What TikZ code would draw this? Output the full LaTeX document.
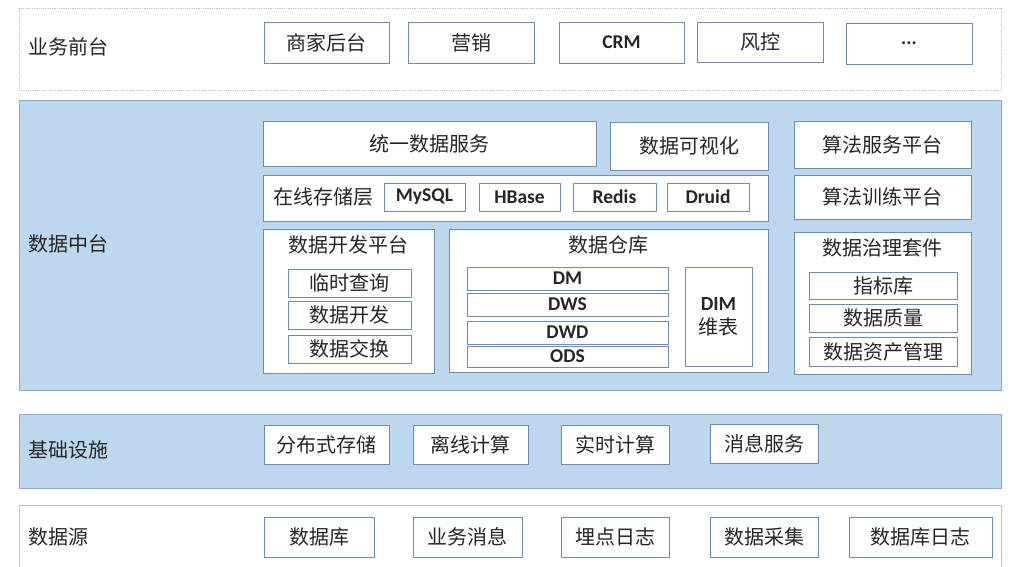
\documentclass[tikz,border=0pt]{standalone}
\usepackage{fontspec}
\setmainfont{Carlito}
\newfontfamily\cjk{Noto Sans CJK SC}
\definecolor{bandfill}{HTML}{BDD7EE}
\definecolor{bandline}{HTML}{8EAACB}
\definecolor{boxline}{HTML}{6F8CAE}
\definecolor{dotline}{HTML}{B8C4D2}
\newcommand{\bx}[7][]{%
  \node[box,#1,minimum width={(#5-#3)*1pt},minimum height={(#6-#4)*1pt}] (#2) at ({(#3+#5)/2},{(#4+#6)/2}) {#7};}
\tikzset{
  box/.style={draw=boxline,fill=white,line width=0.8pt,inner sep=0pt,font=\cjk\fontsize{20}{22}\selectfont,text=black!85},
  lat/.style={font=\fontsize{19.5}{21}\selectfont\bfseries},
  band/.style={draw=bandline,fill=bandfill,line width=0.8pt,inner sep=0pt},
  wband/.style={draw=dotline,fill=white,line width=0.8pt,densely dotted,inner sep=0pt},
  lbl/.style={font=\cjk\fontsize{20}{22}\selectfont,text=black!85,anchor=west,inner sep=0pt},
  ttl/.style={font=\cjk\fontsize{20}{22}\selectfont,text=black!85,inner sep=0pt}
}
\begin{document}
\begin{tikzpicture}[x=1pt,y=-1pt]
\useasboundingbox (0,0) rectangle (1010,567);
\clip (0,0) rectangle (1010,567);
% bands
\bx[wband]{bandA}{19}{8}{1001}{90}{}
\bx[band]{bandB}{19}{100}{1001}{390}{}
\bx[band]{bandC}{19}{414}{1001}{488}{}
\bx[wband,solid]{bandD}{19}{505}{1001}{580}{}
\node[lbl] (lA) at (28,47) {业务前台};
\node[lbl] (lB) at (28,244) {数据中台};
\node[lbl] (lC) at (28,450) {基础设施};
\node[lbl] (lD) at (28,537) {数据源};
% top
\bx{a1}{264}{22}{389}{63}{商家后台}
\bx{a2}{408}{22}{534}{63}{营销}
\bx[lat]{a3}{559}{22}{684}{63}{CRM}
\bx{a4}{697}{22}{823}{62}{风控}
\bx[lat]{a5}{846}{23}{972}{64}{...}
% middle
\bx{m1}{263}{121}{596}{166}{统一数据服务}
\bx{m2}{610}{122}{768}{170}{数据可视化}
\bx{m3}{263}{175}{768}{221}{}
\node[lbl] (m3l) at (273,197) {在线存储层};
\bx[lat]{s1}{384}{183}{465}{211}{MySQL}
\bx[lat]{s2}{479}{183}{560}{211}{HBase}
\bx[lat]{s3}{573}{183}{656}{211}{Redis}
\bx[lat]{s4}{667}{183}{749}{211}{Druid}
\bx{r1}{794}{121}{971}{168}{算法服务平台}
\bx{r2}{794}{175}{971}{219}{算法训练平台}
\bx{r3}{794}{232}{971}{374}{}
\node[ttl] (r3t) at (882,248) {数据治理套件};
\bx{g1}{809}{272}{957}{299}{指标库}
\bx{g2}{809}{304}{957}{332}{数据质量}
\bx{g3}{809}{337}{957}{366}{数据资产管理}
\bx{d0}{263}{229}{434}{373}{}
\node[ttl] (d0t) at (348.5,245) {数据开发平台};
\bx{d1}{288}{269}{411}{297}{临时查询}
\bx{d2}{288}{301}{411}{329}{数据开发}
\bx{d3}{288}{335}{411}{363}{数据交换}
\bx{w0}{449}{229}{768}{372}{}
\node[ttl] (w0t) at (608.5,245) {数据仓库};
\bx[lat]{w1}{467}{267}{668}{290}{DM}
\bx[lat]{w2}{467}{293}{668}{316}{DWS}
\bx[lat]{w3}{467}{321}{668}{344}{DWD}
\bx[lat]{w4}{467}{346}{668}{367}{ODS}
\bx[align=center]{w5}{685}{267}{752}{366}{{\fontspec{Carlito}\bfseries DIM}\\[2pt]维表}
% infra
\bx{c1}{264}{425}{389}{464}{分布式存储}
\bx{c2}{413}{425}{528}{464}{离线计算}
\bx{c3}{561}{425}{669}{464}{实时计算}
\bx{c4}{710}{424}{818}{463}{消息服务}
% sources
\bx{e1}{264}{517}{374}{557}{数据库}
\bx{e2}{413}{517}{522}{557}{业务消息}
\bx{e3}{561}{517}{669}{557}{埋点日志}
\bx{e4}{710}{517}{818}{557}{数据采集}
\bx{e5}{849}{517}{992}{557}{数据库日志}
\end{tikzpicture}
\end{document}
